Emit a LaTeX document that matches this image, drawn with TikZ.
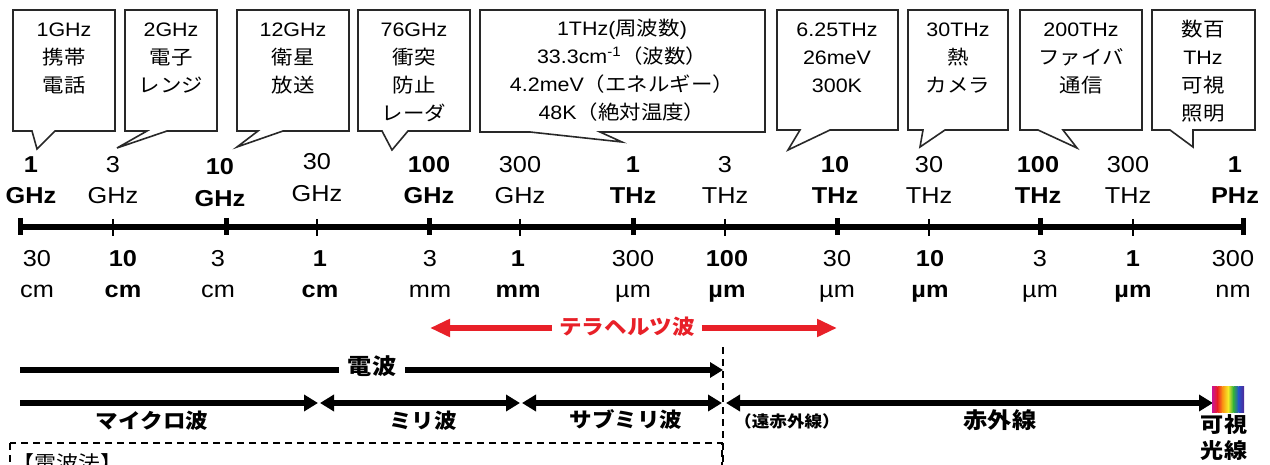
\documentclass[tikz,border=0pt]{standalone}
\usepackage{fontspec}
\setmainfont{Liberation Sans}[FakeStretch=1.1]
\newfontfamily\jp{Noto Sans CJK JP}[FakeStretch=1.1]
\usetikzlibrary{arrows.meta}
\definecolor{tred}{RGB}{232,32,40}
\definecolor{bord}{RGB}{40,40,40}
\definecolor{rb1}{RGB}{200,20,150}
\definecolor{rb2}{RGB}{235,30,35}
\definecolor{rb3}{RGB}{250,150,20}
\definecolor{rb4}{RGB}{245,235,40}
\definecolor{rb5}{RGB}{50,175,60}
\definecolor{rb6}{RGB}{40,80,200}
\definecolor{rb7}{RGB}{80,40,150}
\newcommand\J[1]{{\jp #1}}
\newcommand\bubble[8]{\draw[bub] (#1,#3) -- (#2,#3) -- (#2,#4) -- (#6,#4) -- (#7,#8) -- (#5,#4) -- (#1,#4) -- cycle;}
\begin{document}
\begin{tikzpicture}[x=1pt,y=-1pt,
  bub/.style={draw=bord, line width=1.6pt, fill=white, line join=miter},
  btxt/.style={anchor=base, align=center, inner sep=0pt, font=\fontsize{19.5}{28}\selectfont},
  axr/.style={anchor=base, inner sep=0pt, font=\fontsize{23}{23}\selectfont},
  axb/.style={anchor=base, inner sep=0pt, font=\fontsize{23}{23}\selectfont\bfseries},
  lab/.style={inner sep=0pt, font=\fontsize{20.5}{26}\selectfont\jp\bfseries, align=center},
  thick arr/.style={line width=5.5pt},
  tipk/.tip={Triangle[length=14pt,width=16pt]},
  dsh/.style={line width=1.3pt, dash pattern=on 7pt off 5pt}
]
\useasboundingbox (0,0) rectangle (1270,465);
\clip (0,0) rectangle (1270,465);
\fill[white] (0,0) rectangle (1270,465);

% callouts
\bubble{13}{115}{10}{131}{32}{55}{37}{149}
\bubble{125}{217}{10}{131}{147}{167}{117}{148}
\bubble{237}{349}{10}{131}{258}{283}{237}{147}
\bubble{358}{470}{10}{131}{382}{408}{392}{150}
\bubble{480}{765}{10}{132}{530}{600}{622}{142}
\bubble{777}{898}{10}{130}{800}{830}{788}{150}
\bubble{908}{1008}{10}{130}{923}{945}{920}{147}
\bubble{1020}{1142}{10}{130}{1038}{1063}{1077}{148}
\bubble{1152}{1255}{10}{130}{1170}{1193}{1193}{147}

% (anchor=base is the last line's baseline)
\node[btxt] (c1) at (64,93) {1GHz\\\J{携帯}\\\J{電話}};
\node[btxt] (c2) at (171,93) {2GHz\\\J{電子}\\\J{レンジ}};
\node[btxt] (c3) at (293,93) {12GHz\\\J{衛星}\\\J{放送}};
\node[btxt] (c4) at (414,121) {76GHz\\\J{衝突}\\\J{防止}\\\J{レーダ}};
\node[btxt] (c5) at (622,120) {1THz(\J{周波数})\\33.3cm\textsuperscript{-1}\J{（波数）}\\4.2meV\J{（エネルギー）}\\48K\J{（絶対温度）}};
\node[btxt] (c6) at (837,93) {6.25THz\\26meV\\300K};
\node[btxt] (c7) at (958,93) {30THz\\\J{熱}\\\J{カメラ}};
\node[btxt] (c8) at (1081,93) {200THz\\\J{ファイバ}\\\J{通信}};
\node[btxt] (c9) at (1203,121) {\J{数百}\\THz\\\J{可視}\\\J{照明}};

% axis
\coordinate (ax0) at (20,227);
\coordinate (ax1) at (1243,227);
\draw[line width=6pt] (ax0) -- (ax1);
\foreach \x in {20,226,429,633,837,1040,1243}
  \draw[line width=5pt] (\x,218) -- (\x,235);
\foreach \x in {113,317,520,725,929,1133}
  \draw[line width=1.8pt] (\x,219) -- (\x,236);

% top labels
\node[axb] (f1n) at (31,173) {1};    \node[axb] (f1u) at (31,204) {GHz};
\node[axr] (f2n) at (113,173) {3};   \node[axr] (f2u) at (113,204) {GHz};
\node[axb] (f3n) at (220,175) {10};  \node[axb] (f3u) at (220,207) {GHz};
\node[axr] (f4n) at (317,170) {30};  \node[axr] (f4u) at (317,202) {GHz};
\node[axb] (f5n) at (429,173) {100}; \node[axb] (f5u) at (429,204) {GHz};
\node[axr] (f6n) at (520,173) {300}; \node[axr] (f6u) at (520,204) {GHz};
\node[axb] (f7n) at (633,173) {1};   \node[axb] (f7u) at (633,204) {THz};
\node[axr] (f8n) at (725,173) {3};   \node[axr] (f8u) at (725,204) {THz};
\node[axb] (f9n) at (835,173) {10};  \node[axb] (f9u) at (835,204) {THz};
\node[axr] (f10n) at (929,173) {30}; \node[axr] (f10u) at (929,204) {THz};
\node[axb] (f11n) at (1038,173) {100}; \node[axb] (f11u) at (1038,204) {THz};
\node[axr] (f12n) at (1128,173) {300}; \node[axr] (f12u) at (1128,204) {THz};
\node[axb] (f13n) at (1235,173) {1};   \node[axb] (f13u) at (1235,204) {PHz};

% bottom labels
\node[axr] (w1n) at (37,267) {30};   \node[axr] (w1u) at (37,298) {cm};
\node[axb] (w2n) at (123,267) {10};  \node[axb] (w2u) at (123,298) {cm};
\node[axr] (w3n) at (218,267) {3};   \node[axr] (w3u) at (218,298) {cm};
\node[axb] (w4n) at (320,267) {1};   \node[axb] (w4u) at (320,298) {cm};
\node[axr] (w5n) at (430,267) {3};   \node[axr] (w5u) at (430,298) {mm};
\node[axb] (w6n) at (518,267) {1};   \node[axb] (w6u) at (518,298) {mm};
\node[axr] (w7n) at (633,267) {300}; \node[axr] (w7u) at (633,298) {µm};
\node[axb] (w8n) at (727,267) {100}; \node[axb] (w8u) at (727,298) {µm};
\node[axr] (w9n) at (837,267) {30};  \node[axr] (w9u) at (837,298) {µm};
\node[axb] (w10n) at (930,267) {10}; \node[axb] (w10u) at (930,298) {µm};
\node[axr] (w11n) at (1040,267) {3}; \node[axr] (w11u) at (1040,298) {µm};
\node[axb] (w12n) at (1133,267) {1}; \node[axb] (w12u) at (1133,298) {µm};
\node[axr] (w13n) at (1233,267) {300}; \node[axr] (w13u) at (1233,298) {nm};

% terahertz arrow
\node[lab, text=tred, inner xsep=7pt] (thz) at (627,327) {テラヘルツ波};
\coordinate (t0) at (430,328);
\coordinate (t1) at (837,328);
\draw[tred, line width=5pt, -{Triangle[length=20pt,width=17pt]}] (thz.west |- t0) -- (t0);
\draw[tred, line width=5pt, -{Triangle[length=20pt,width=17pt]}] (thz.east |- t1) -- (t1);

% radio wave line
\node[lab, inner xsep=9pt, font=\fontsize{22}{26}\selectfont\jp\bfseries] (denpa) at (372,366) {電波};
\coordinate (d0) at (20,370);
\coordinate (d1) at (723,370);
\draw[thick arr] (d0) -- (denpa.west |- d0);
\draw[thick arr, -{Triangle[length=13pt,width=15pt]}] (denpa.east |- d1) -- (d1);

% dashed lines
\coordinate (v0) at (723,347);
\coordinate (v1) at (723,470);
\draw[dsh] (v0) -- (v1);
\draw[dsh] (10,443) rectangle (722,490);
\node[inner sep=0pt, anchor=west, font=\fontsize{20}{24}\selectfont\jp] (law) at (12,463) {【電波法】};

% band arrows
\coordinate (a0) at (20,403);
\coordinate (a1) at (318,403);
\coordinate (a2) at (320,403);
\coordinate (a3) at (520,403);
\coordinate (a4) at (522,403);
\coordinate (a5) at (722,403);
\coordinate (a6) at (726,403);
\coordinate (a7) at (1213,403);
\draw[thick arr, -tipk] (a0) -- (a1);
\draw[thick arr, tipk-tipk] (a2) -- (a3);
\draw[thick arr, tipk-tipk] (a4) -- (a5);
\draw[thick arr, tipk-tipk] (a6) -- (a7);

\node[lab] (micro) at (152,421) {マイクロ波};
\node[lab] (miri) at (423,421) {ミリ波};
\node[lab] (submm) at (626,420) {サブミリ波};
\node[lab, font=\fontsize{16}{18}\selectfont\jp\bfseries] (far) at (787,421) {（遠赤外線）};
\node[lab, font=\fontsize{22}{26}\selectfont\jp\bfseries] (ir) at (1000,420) {赤外線};
\node[lab, font=\fontsize{21}{26}\selectfont\jp\bfseries] (vis) at (1224,438) {可視\\光線};

% rainbow
\shade[left color=rb1, right color=rb2] (1212,386) rectangle (1217.3,412);
\shade[left color=rb2, right color=rb3] (1217.3,386) rectangle (1222.6,412);
\shade[left color=rb3, right color=rb4] (1222.6,386) rectangle (1228,412);
\shade[left color=rb4, right color=rb5] (1228,386) rectangle (1233.3,412);
\shade[left color=rb5, right color=rb6] (1233.3,386) rectangle (1238.6,412);
\shade[left color=rb6, right color=rb7] (1238.6,386) rectangle (1244,412);
\end{tikzpicture}
\end{document}
